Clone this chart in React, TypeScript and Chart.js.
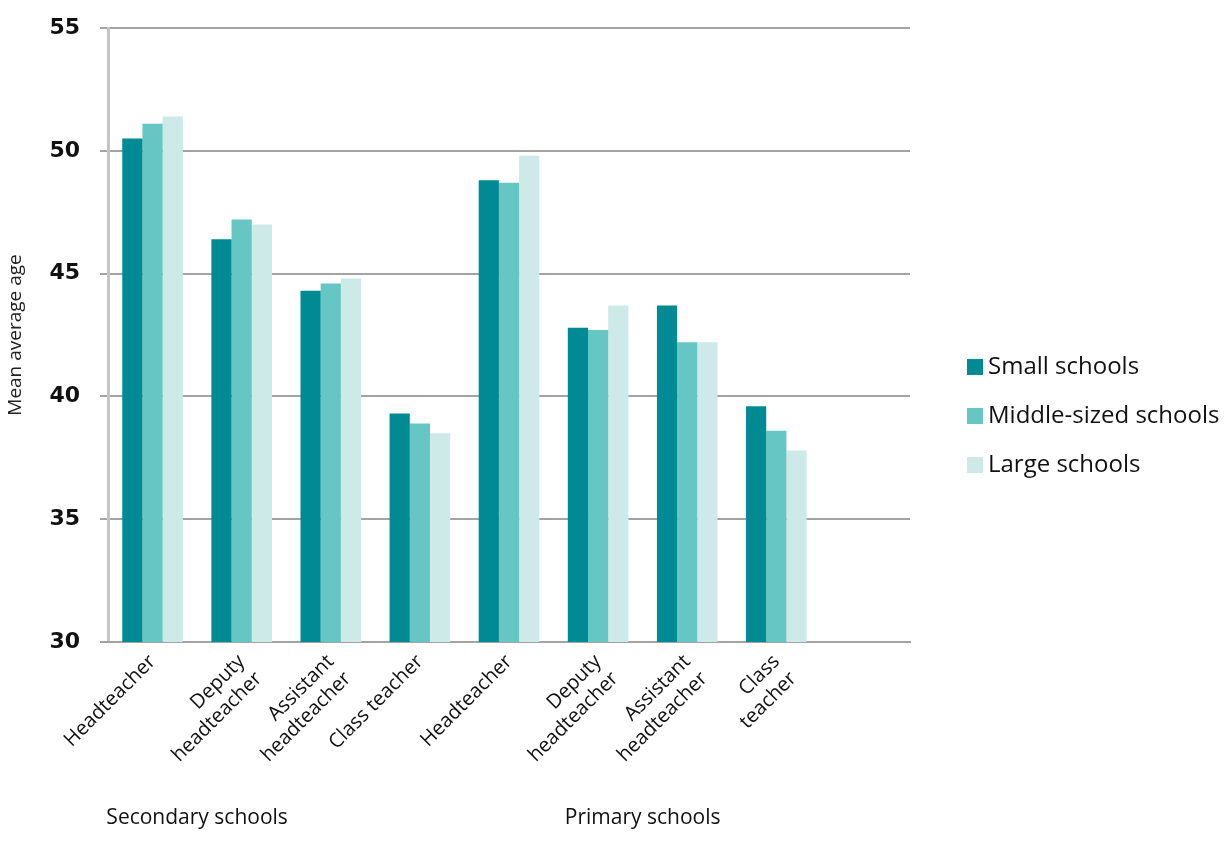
import React, { useEffect, useRef } from "react";
import { Chart, registerables } from "chart.js";

Chart.register(...registerables);

const categories: (string | string[])[] = [
  "Headteacher",
  ["Deputy", "headteacher"],
  ["Assistant", "headteacher"],
  "Class teacher",
  "Headteacher",
  ["Deputy", "headteacher"],
  ["Assistant", "headteacher"],
  ["Class", "teacher"],
  "",
];

const seriesNames = ["Small schools", "Middle-sized schools", "Large schools"];
const smallSchools = [50.5, 46.4, 44.3, 39.3, 48.8, 42.8, 43.7, 39.6];
const middleSchools = [51.1, 47.2, 44.6, 38.9, 48.7, 42.7, 42.2, 38.6];
const largeSchools = [51.4, 47.0, 44.8, 38.5, 49.8, 43.7, 42.2, 37.8];
const seriesColors = ["#008a94", "#66c6c3", "#cde9e8"];

const groupNames = ["Secondary schools", "Primary schools"];
const groupAnchors = [0.5, 5.5];

const yMin = 30;
const yMax = 55;
const yStep = 5;

const groupLabelPlugin = {
  id: "groupLabels",
  afterDraw(chart: any) {
    const x = chart.scales.x;
    const ctx = chart.ctx;
    ctx.save();
    ctx.font = "21px 'Open Sans'";
    ctx.fillStyle = "#111";
    ctx.textAlign = "center";
    ctx.textBaseline = "middle";
    groupNames.forEach((name, i) => {
      const a = groupAnchors[i];
      const i0 = Math.floor(a);
      const f = a - i0;
      const cx = x.getPixelForTick(i0) * (1 - f) + x.getPixelForTick(i0 + 1) * f;
      ctx.fillText(name, cx, 818);
    });
    ctx.restore();
  },
};

const sideLegendPlugin = {
  id: "sideLegend",
  afterDraw(chart: any) {
    const ctx = chart.ctx;
    const area = chart.chartArea;
    const datasets = chart.data.datasets;
    const box = 16;
    const gap = 49;
    const x0 = area.right + 57;
    const yc = (area.top + area.bottom) / 2 + 81;
    const y0 = yc - ((datasets.length - 1) * gap) / 2;
    ctx.save();
    ctx.font = "24px 'Open Sans'";
    ctx.textAlign = "left";
    ctx.textBaseline = "middle";
    datasets.forEach((ds: any, i: number) => {
      const y = y0 + i * gap;
      ctx.fillStyle = ds.backgroundColor;
      ctx.fillRect(x0, y - box / 2, box, box);
      ctx.fillStyle = "#111";
      ctx.fillText(ds.label, x0 + box + 5, y);
    });
    ctx.restore();
  },
};

export default function App() {
  const ref = useRef<HTMLCanvasElement>(null);
  useEffect(() => {
    if (!ref.current) return;
    const chart = new Chart(ref.current, {
      type: "bar",
      data: {
        labels: categories,
        datasets: [
          { label: seriesNames[0], data: smallSchools, backgroundColor: seriesColors[0] },
          { label: seriesNames[1], data: middleSchools, backgroundColor: seriesColors[1] },
          { label: seriesNames[2], data: largeSchools, backgroundColor: seriesColors[2] },
        ],
      },
      options: {
        responsive: false,
        animation: false,
        maintainAspectRatio: false,
        layout: { padding: { top: 28, right: 320, bottom: 0, left: 0 } },
        datasets: {
          bar: { categoryPercentage: 0.68, barPercentage: 1.0, borderWidth: 0 },
        },
        plugins: {
          tooltip: { enabled: false },
          legend: { display: false },
        },
        scales: {
          y: {
            min: yMin,
            max: yMax,
            afterFit: (s: any) => {
              s.width = 108;
              s.paddingTop = 0;
              s.paddingBottom = 0;
            },
            ticks: {
              stepSize: yStep,
              padding: 20,
              color: "#111",
              font: { family: "'DejaVu Sans'", size: 22, weight: "bold" },
            },
            grid: { color: "#a3a3a3", lineWidth: 2, tickLength: 8, drawTicks: true },
            border: { display: true, color: "#c4c4c4", width: 3 },
            title: {
              display: true,
              text: "Mean average age",
              color: "#222",
              font: { family: "'Open Sans'", size: 19 },
              padding: { top: 4, bottom: 4 },
            },
          },
          x: {
            afterFit: (s: any) => {
              s.height = 212;
            },
            grid: { display: false, drawTicks: false },
            border: { display: true, color: "#a3a3a3", width: 2 },
            ticks: {
              maxRotation: 45,
              minRotation: 45,
              autoSkip: false,
              padding: 8,
              color: "#111",
              font: { family: "'Open Sans'", size: 20 },
            },
          },
        },
      },
      plugins: [groupLabelPlugin, sideLegendPlugin],
    });
    return () => chart.destroy();
  }, []);
  return (
    <div style={{ position: "absolute", left: 0, top: 0, width: 1230, height: 854, background: "#fff" }}>
      <canvas ref={ref} width={1230} height={854} />
    </div>
  );
}
